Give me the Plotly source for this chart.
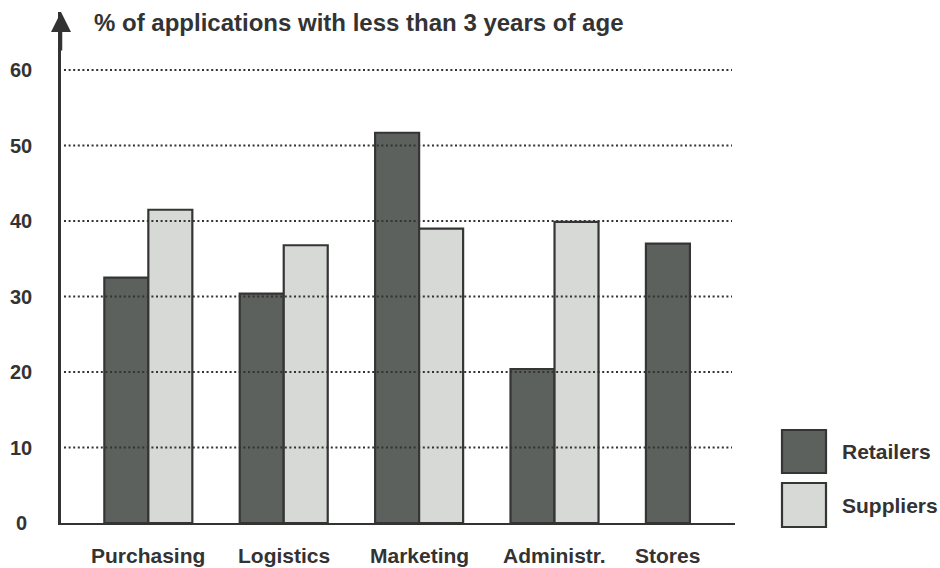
import plotly.graph_objects as go

# Data
categories = ["Purchasing", "Logistics", "Marketing", "Administr.", "Stores"]
retailers = [32.5, 30.4, 51.7, 20.4, 37.0]
suppliers = [41.5, 36.8, 39.0, 39.9, None]
y_ticks = [0, 10, 20, 30, 40, 50, 60]
title_text = "% of applications with less than 3 years of age"
series_names = ["Retailers", "Suppliers"]

# Styling
W, H = 940, 568
M_L, M_R, M_T, M_B = 61, 205, 12, 45
PLOT_W = W - M_L - M_R
PLOT_H = H - M_T - M_B
DARK = "#5c615e"
LIGHT = "#d6d9d6"
EDGE = "#353535"
INK = "#333333"
FONT = "Liberation Sans, Arial, Helvetica, sans-serif"
BARGAP = 0.35
Y_MAX = 67.7
X_RANGE = [-0.645, 4.333]


def px_x(p):
    return (p - M_L) / PLOT_W


def px_y(p):
    return (H - M_B - p) / PLOT_H


fig = go.Figure()
fig.add_trace(go.Bar(
    x=categories, y=retailers, name=series_names[0],
    marker=dict(color=DARK, line=dict(color=EDGE, width=2.2)),
))
fig.add_trace(go.Bar(
    x=categories, y=suppliers, name=series_names[1],
    marker=dict(color=LIGHT, line=dict(color=EDGE, width=2.2)),
))

shapes = []
# dotted gridlines drawn over the bars
for t in y_ticks[1:]:
    shapes.append(dict(
        type="line", xref="paper", yref="y",
        x0=px_x(64), x1=px_x(732), y0=t, y1=t,
        line=dict(color=INK, width=2, dash="2px,2.6px"),
        layer="above",
    ))

# legend boxes
legend_boxes = [(430, 473), (483, 527)]
for (top, bottom), col in zip(legend_boxes, [DARK, LIGHT]):
    shapes.append(dict(
        type="rect", xref="paper", yref="paper",
        x0=px_x(782), x1=px_x(826), y0=px_y(bottom), y1=px_y(top),
        fillcolor=col, line=dict(color=EDGE, width=2.2),
    ))

annotations = []
# title
annotations.append(dict(
    text=title_text, xref="paper", yref="paper",
    x=px_x(92), y=px_y(22), xanchor="left", yanchor="middle",
    showarrow=False, font=dict(family=FONT, size=24, color=INK, weight="bold"),
))
# y tick labels
for t in y_ticks:
    annotations.append(dict(
        text=str(t), xref="paper", yref="y", x=px_x(21), y=t,
        xanchor="center", yanchor="middle", showarrow=False,
        font=dict(family=FONT, size=20, color=INK, weight="bold"),
    ))
# category labels (centered on the lone bar when a group has one series)
half_bar = (1 - BARGAP) / 4
for i, (cat, s) in enumerate(zip(categories, suppliers)):
    xpos = i - half_bar if s is None else i
    annotations.append(dict(
        text=cat, xref="x", yref="paper", x=xpos, y=px_y(555),
        xanchor="center", yanchor="middle", showarrow=False,
        font=dict(family=FONT, size=21, color=INK, weight="bold"),
    ))
# legend labels
for name, cy in zip(series_names, [451, 505]):
    annotations.append(dict(
        text=name, xref="paper", yref="paper", x=px_x(840), y=px_y(cy),
        xanchor="left", yanchor="middle", showarrow=False,
        font=dict(family=FONT, size=21, color=INK, weight="bold"),
    ))
# arrowhead at the top of the value axis
annotations.append(dict(
    text="", xref="paper", yref="paper", x=0, y=1,
    ax=0, ay=40, axref="pixel", ayref="pixel",
    showarrow=True, arrowhead=2, arrowsize=1.6, arrowwidth=2.5,
    arrowcolor=INK, standoff=0,
))

fig.update_layout(
    width=W, height=H, autosize=False,
    margin=dict(l=M_L, r=M_R, t=M_T, b=M_B),
    paper_bgcolor="white", plot_bgcolor="white",
    barmode="group", bargap=BARGAP, bargroupgap=0,
    showlegend=False,
    shapes=shapes, annotations=annotations,
    xaxis=dict(
        type="category", range=X_RANGE, showticklabels=False,
        showgrid=False, zeroline=False, showline=True,
        linecolor=INK, linewidth=2, ticks="",
    ),
    yaxis=dict(
        range=[0, Y_MAX], showticklabels=False, showgrid=False,
        zeroline=False, showline=True, linecolor=INK, linewidth=2.5,
        ticks="", tickvals=y_ticks,
    ),
)

fig.write_html("out.html")
